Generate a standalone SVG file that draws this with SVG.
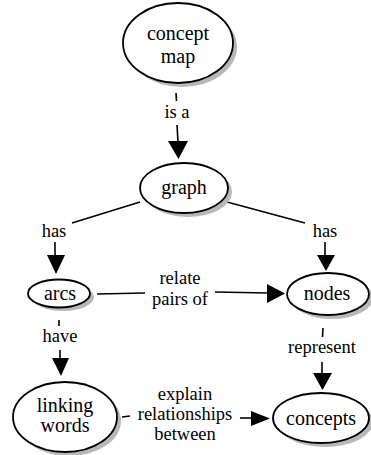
<svg xmlns="http://www.w3.org/2000/svg" width="371" height="455" viewBox="0 0 371 455">
<style>
.sh{fill:#b8b8b8;stroke:none}
.nd{fill:#fff;stroke:#000;stroke-width:1.8}
.nt{font-family:"Liberation Serif","Times New Roman",serif;font-size:20px;text-anchor:middle;fill:#000}
.lt{font-family:"Liberation Serif","Times New Roman",serif;font-size:18.5px;text-anchor:middle;fill:#000}
.ln{stroke:#000;stroke-width:1.6;fill:none}
.ah{fill:#000;stroke:none}
</style>
<rect width="371" height="455" fill="#fff"/>
<g id="connectors">
<line class="ln" x1="176" y1="93" x2="176.5" y2="101"/>
<text class="lt" x="177" y="118">is a</text>
<line class="ln" x1="177" y1="125" x2="178" y2="142"/>
<polygon class="ah" points="168,141 188,141 178.5,159"/>
<line class="ln" x1="140" y1="202" x2="72" y2="223"/>
<text class="lt" x="54" y="237">has</text>
<line class="ln" x1="55" y1="242" x2="55" y2="256"/>
<polygon class="ah" points="47,255 65,255 56,274"/>
<line class="ln" x1="227" y1="202" x2="305" y2="223"/>
<text class="lt" x="325" y="237">has</text>
<line class="ln" x1="325" y1="242" x2="325" y2="256"/>
<polygon class="ah" points="317,255 335,255 326,271"/>
<line class="ln" x1="97" y1="294" x2="145" y2="293"/>
<text class="lt" x="180" y="284">relate</text>
<text class="lt" x="180" y="305">pairs of</text>
<line class="ln" x1="215" y1="292" x2="268" y2="293"/>
<polygon class="ah" points="267,284 285,293.5 267,303"/>
<line class="ln" x1="59" y1="320" x2="59" y2="326"/>
<text class="lt" x="60" y="342">have</text>
<line class="ln" x1="60" y1="350" x2="60" y2="359"/>
<polygon class="ah" points="52,358 69,358 61,376"/>
<line class="ln" x1="323" y1="328" x2="322.5" y2="337"/>
<text class="lt" x="322" y="353">represent</text>
<line class="ln" x1="322" y1="362" x2="322" y2="374"/>
<polygon class="ah" points="313,373 332,373 322.5,390"/>
<line class="ln" x1="122" y1="417" x2="130" y2="416"/>
<text class="lt" x="185" y="400">explain</text>
<text class="lt" x="185" y="420">relationships</text>
<text class="lt" x="185" y="440">between</text>
<line class="ln" x1="240" y1="418" x2="252" y2="418"/>
<polygon class="ah" points="251,411 270,418.5 251,426"/>
</g>
<g id="concept-map">
<ellipse class="sh" cx="182" cy="47" rx="55" ry="40"/>
<ellipse class="nd" cx="178" cy="43" rx="55" ry="40"/>
<text class="nt" x="178" y="40">concept</text>
<text class="nt" x="178" y="63">map</text>
</g>
<g id="graph">
<ellipse class="sh" cx="188" cy="192" rx="44" ry="25"/>
<ellipse class="nd" cx="184" cy="188" rx="44" ry="25"/>
<text class="nt" x="184" y="194">graph</text>
</g>
<g id="arcs">
<ellipse class="sh" cx="63" cy="297" rx="31" ry="14"/>
<ellipse class="nd" cx="59" cy="293.5" rx="31" ry="14"/>
<text class="nt" x="60" y="300">arcs</text>
</g>
<g id="nodes">
<ellipse class="sh" cx="332" cy="298" rx="41" ry="21"/>
<ellipse class="nd" cx="328" cy="294" rx="41" ry="21"/>
<text class="nt" x="327" y="300">nodes</text>
</g>
<g id="linking-words">
<ellipse class="sh" cx="69" cy="421" rx="52" ry="35"/>
<ellipse class="nd" cx="65" cy="417" rx="52" ry="35"/>
<text class="nt" x="65" y="412">linking</text>
<text class="nt" x="65" y="432">words</text>
</g>
<g id="concepts">
<ellipse class="sh" cx="325" cy="422" rx="48" ry="25"/>
<ellipse class="nd" cx="321" cy="418" rx="48" ry="25"/>
<text class="nt" x="321" y="425">concepts</text>
</g>
</svg>
